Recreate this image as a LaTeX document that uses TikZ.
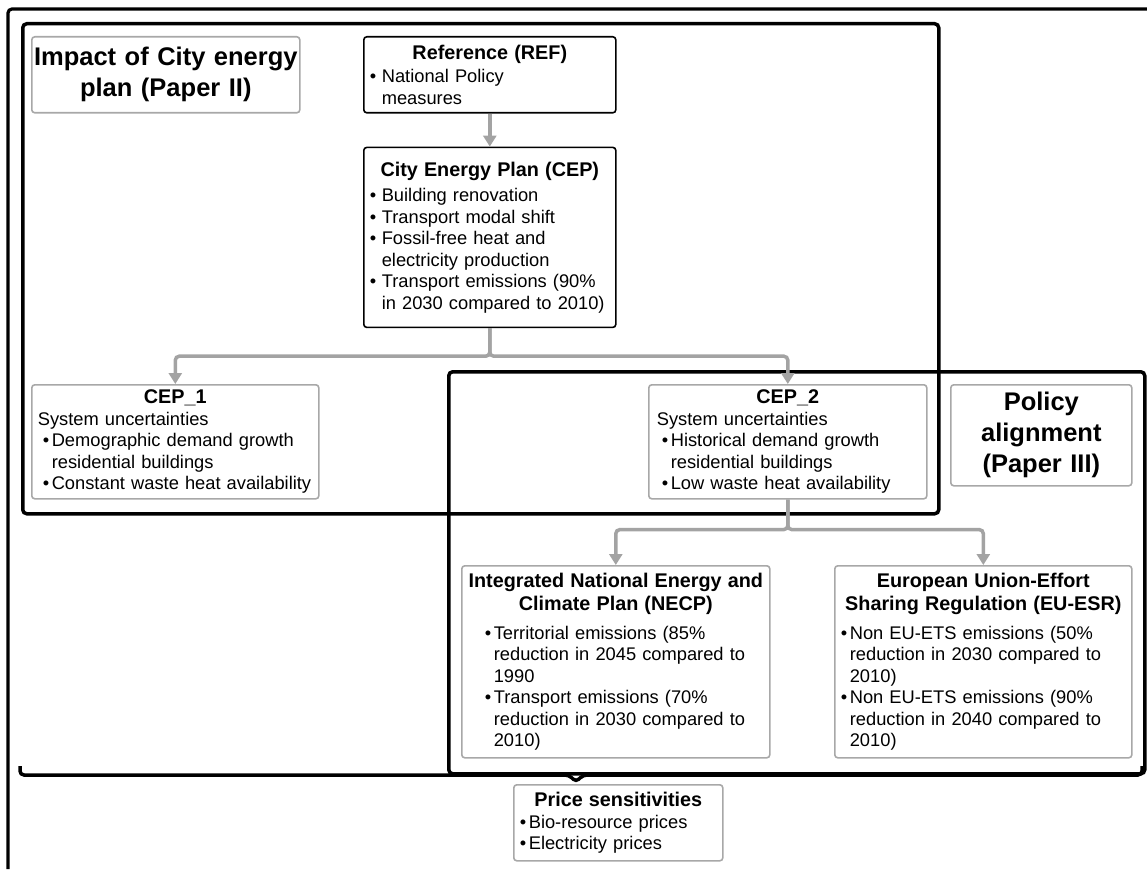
\documentclass[tikz,border=0pt]{standalone}
\usepackage{fontspec}
\setmainfont{Liberation Sans}
\usepackage{tikz}
\usetikzlibrary{positioning,arrows.meta}
\definecolor{boxgrey}{HTML}{A8A8A8}
\definecolor{linkgrey}{HTML}{A3A3A3}
\newcommand{\boxhead}[1]{\makebox[\linewidth]{\bfseries\fontsize{19.8}{22}\selectfont #1}}
\newcommand{\bul}[1][12pt]{\makebox[#1][l]{•}}
\newcommand{\ind}[1][12pt]{\hspace*{#1}}
\tikzset{
    every node/.style={font=\fontsize{18.3}{21.5}\selectfont},
    plainbox/.style 2 args={rectangle,rounded corners=3pt,line width=1.6pt,anchor=north west,
        inner xsep=6pt,inner ysep=3pt,text width=#1-12pt,minimum height=#2,align=left},
    refbox/.style 2 args={plainbox={#1}{#2},draw=black},
    optbox/.style 2 args={plainbox={#1}{#2},draw=boxgrey},
    headbox/.style 2 args={optbox={#1}{#2},inner xsep=2pt,text width=#1-4pt,align=center,
        font=\fontsize{25.5}{31}\selectfont\bfseries},
    groupframe/.style 2 args={draw=black,line width=3.5pt,rounded corners=4pt,anchor=north west,
        minimum width=#1,minimum height=#2,inner sep=0pt},
    link/.style={draw=linkgrey,line width=3.5pt,rounded corners=4pt,-{Triangle[length=11pt,width=13pt]}},
    bracket/.style={draw=black,line width=3.5pt,rounded corners=4pt}
}
\begin{document}
\begin{tikzpicture}[x=1pt,y=-1pt]
\useasboundingbox (0,0) rectangle (1147,869);
\draw[line width=3.2pt,rounded corners=4pt] (8,869) -- (8,9) -- (1147,9);
\node[groupframe={916pt}{490pt}] (impact) at (21,22) {};
\node[groupframe={696pt}{402pt}] (policy) at (447,370) {};

\node[headbox={268pt}{76pt}] (impacthead) at (31,36) {Impact of City energy\\plan (Paper II)};
\node[refbox={252pt}{76pt}] (ref) at (363,36)
    {\boxhead{Reference (REF)}\\[2pt]\bul National Policy\\\ind measures};
\node[refbox={252pt}{180pt}, below=33pt of ref.south west, anchor=north west] (cep)
    {\boxhead{City Energy Plan (CEP)}\\[4pt]\bul Building renovation\\\bul Transport modal shift\\
     \bul Fossil-free heat and\\\ind electricity production\\
     \bul Transport emissions (90\%\\\ind in 2030 compared to 2010)\\[4pt]};
\node[optbox={287pt}{114pt}] (cep1) at (31,384)
    {\boxhead{CEP\_1}\\System uncertainties\\
     \ind[5pt]\bul[9pt]Demographic demand growth\\\ind[14pt]residential buildings\\
     \ind[5pt]\bul[9pt]Constant waste heat availability};
\node[optbox={278pt}{114pt}, inner xsep=8pt, text width=262pt] (cep2) at (648,384)
    {\boxhead{CEP\_2}\\System uncertainties\\
     \ind[5pt]\bul[9pt]Historical demand growth\\\ind[14pt]residential buildings\\
     \ind[5pt]\bul[9pt]Low waste heat availability};
\node[headbox={181pt}{101pt}] (policyhead) at (950,384) {Policy\\alignment\\(Paper III)};
\node[optbox={308pt}{192pt}] (necp) at (461,565)
    {\boxhead{Integrated National Energy and}\\[2pt]\boxhead{Climate Plan (NECP)}\\[7pt]
     \ind[17pt]\bul[9pt]Territorial emissions (85\%\\\ind[26pt]reduction in 2045 compared to\\\ind[26pt]1990\\
     \ind[17pt]\bul[9pt]Transport emissions (70\%\\\ind[26pt]reduction in 2030 compared to\\\ind[26pt]2010)};
\node[optbox={297pt}{192pt}] (euesr) at (834,565)
    {\boxhead{European Union-Effort}\\[2pt]\boxhead{Sharing Regulation (EU-ESR)}\\[7pt]
     \bul[9pt]Non EU-ETS emissions (50\%\\\ind[9pt]reduction in 2030 compared to\\\ind[9pt]2010)\\
     \bul[9pt]Non EU-ETS emissions (90\%\\\ind[9pt]reduction in 2040 compared to\\\ind[9pt]2010)};
\node[optbox={209pt}{76pt}] (price) at (513,784)
    {\boxhead{Price sensitivities}\\\bul[9pt]Bio-resource prices\\\bul[9pt]Electricity prices};

\coordinate (braceL) at (20,766);
\coordinate (braceR) at (1142,766);
\coordinate (braceTip) at (576,782);
\draw[bracket] (braceL) -- (20,775) -- (569,775) -- (braceTip) -- (583,775) -- (1142,775) -- (braceR);

\draw[link] (ref) -- (cep);
\draw[link] (cep.south) -- ++(0,28) -| (cep1.north);
\draw[link] (cep.south) -- ++(0,28) -| (cep2.north);
\draw[link] (cep2.south) -- ++(0,30) -| (necp.north);
\draw[link] (cep2.south) -- ++(0,30) -| (euesr.north);
\end{tikzpicture}
\end{document}
